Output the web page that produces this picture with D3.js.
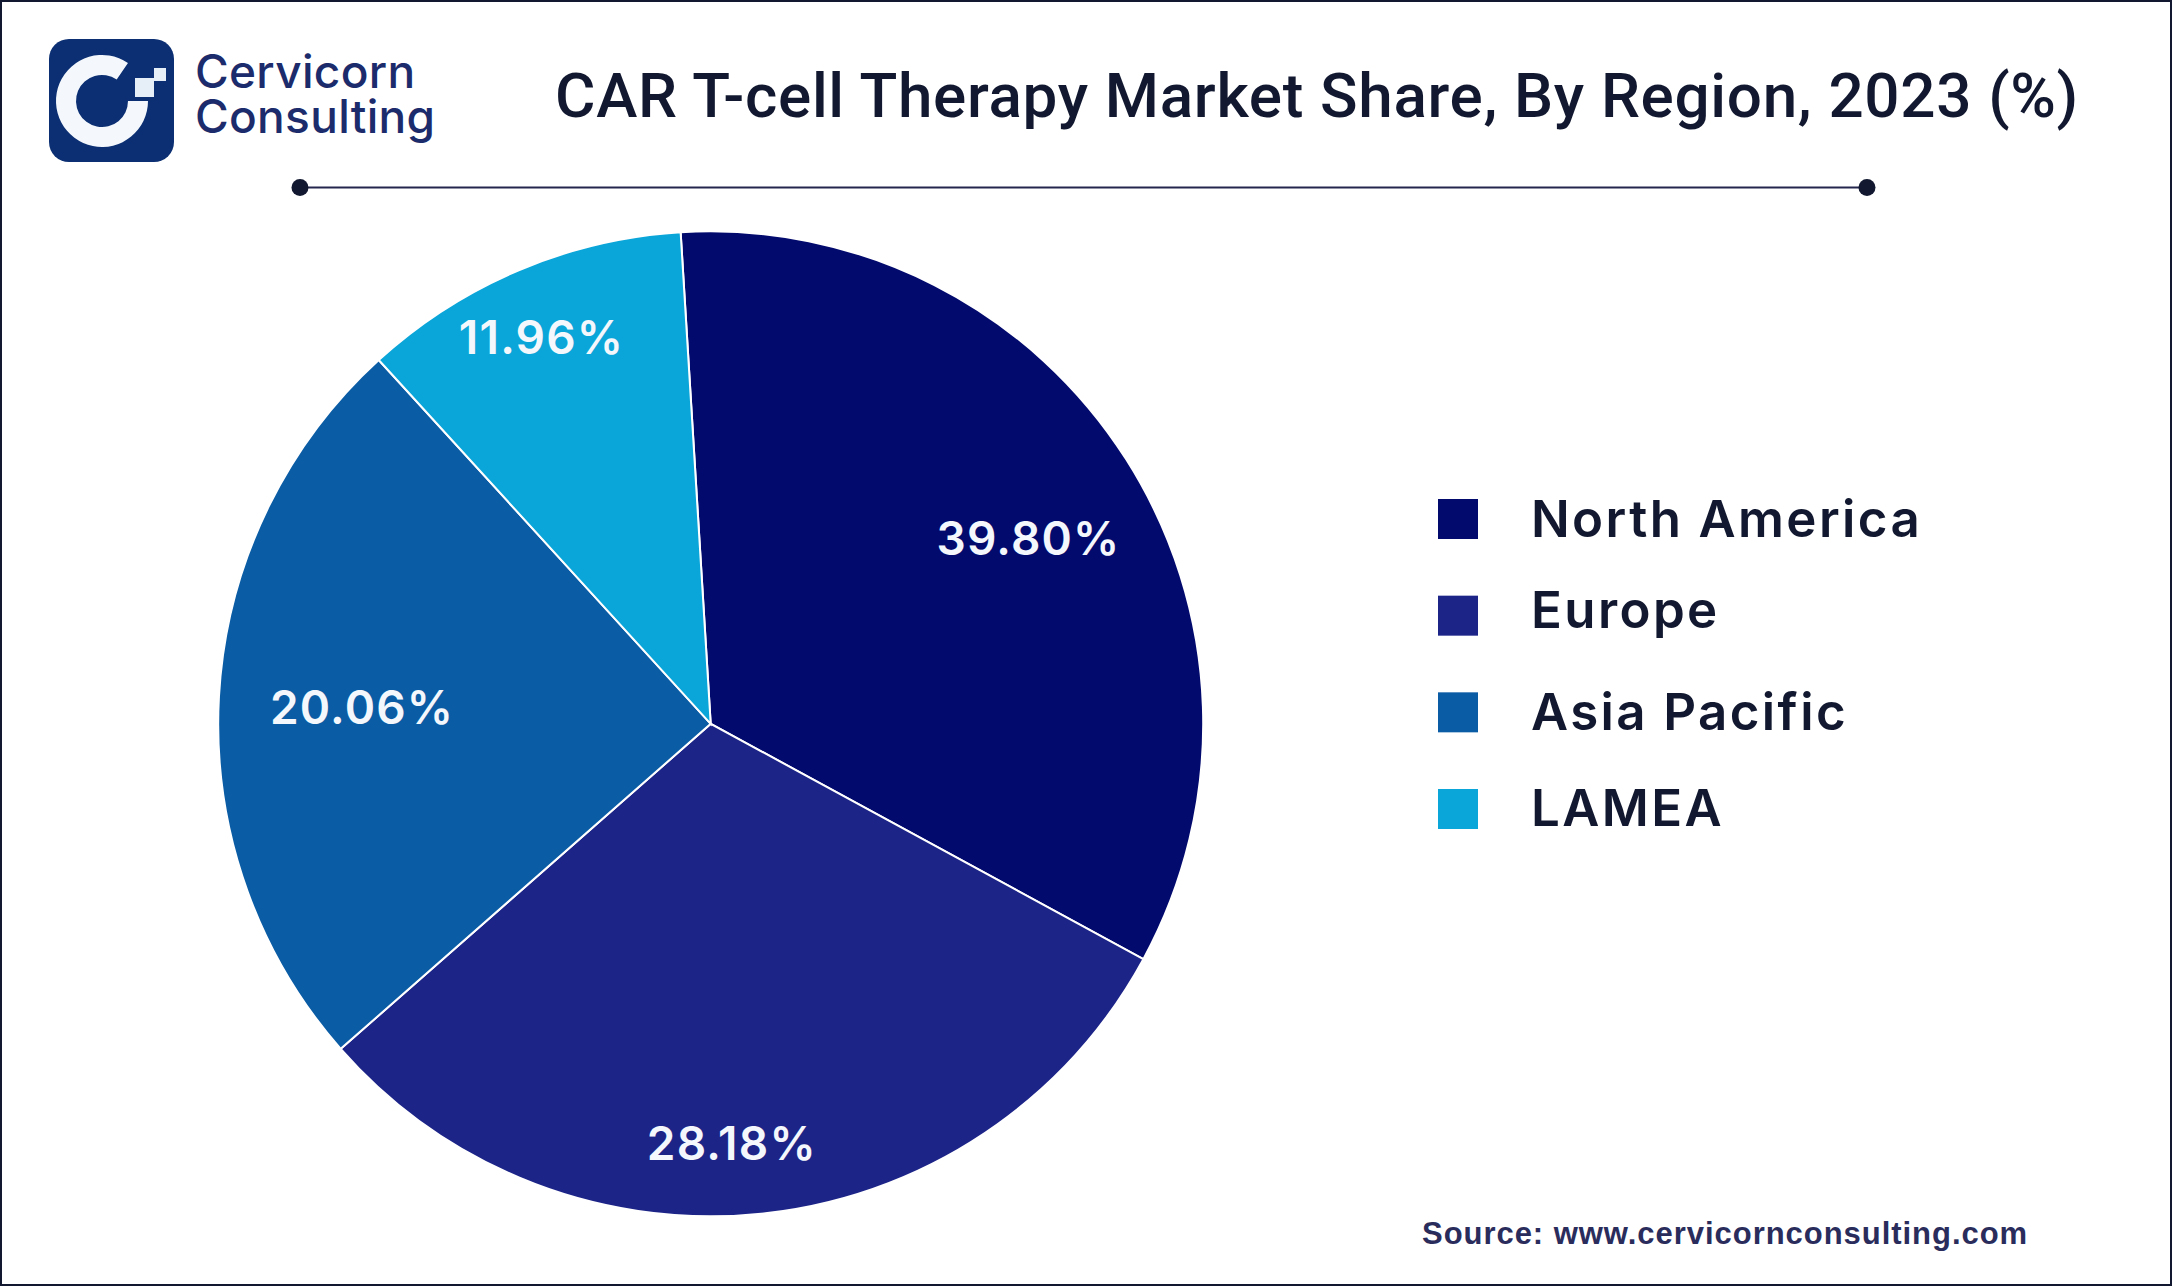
<!DOCTYPE html>
<html lang="en">
<head>
	<meta charset="UTF-8">
	<title>CAR T-cell Therapy Market Share, By Region, 2023 (%)</title>
	<script src="https://cdn.jsdelivr.net/npm/d3@7"></script>
	<style>
		html, body { margin: 0; padding: 0; background: #fff; }
		svg { display: block; }
		text { font-family: "Liberation Sans", sans-serif; }
	</style>
</head>
<body>
	<svg width="2172" height="1286"></svg>
	<script>
		var regions = ["North America", "Europe", "Asia Pacific", "LAMEA"];
		// what the slices print
		var printedShares = [39.80, 28.18, 20.06, 11.96];
		// the slices in the picture are not drawn to the printed numbers, these are the measured sweeps in %
		var drawnShares = [33.9, 30.6, 24.7, 10.8];
		var regionColors = ["#030a6e", "#1c2488", "#0a5ca5", "#0aa5d9"];
		var brandLines = ["Cervicorn", "Consulting"];

		var svg = d3.select("svg");
		var ink = "#11182f";

		svg.append("rect")
			.attr("x", 1).attr("y", 1)
			.attr("width", 2170).attr("height", 1284)
			.attr("fill", "#fff").attr("stroke", ink).attr("stroke-width", 2);

		// logo
		var logo = svg.append("g");
		logo.append("rect")
			.attr("x", 49).attr("y", 39)
			.attr("width", 125).attr("height", 123)
			.attr("rx", 20)
			.attr("fill", "#0b2f72");
		logo.append("path")
			.attr("transform", "translate(102,101)")
			.attr("fill", "#f4f8fc")
			.attr("d", d3.arc()({
				innerRadius: 26,
				outerRadius: 46,
				startAngle: Math.PI / 2,
				endAngle: 2 * Math.PI + 0.6
			}));
		logo.append("rect").attr("x", 135).attr("y", 78).attr("width", 19).attr("height", 19).attr("fill", "#e6eff8");
		logo.append("rect").attr("x", 154).attr("y", 68).attr("width", 12).attr("height", 13).attr("fill", "#e6eff8");
		logo.append("text")
			.attr("fill", "#1b2b6b")
			.style("font-family", "Inter, sans-serif")
			.style("font-weight", 500)
			.style("font-size", "46px")
			.style("letter-spacing", "0.3px")
			.selectAll("tspan")
			.data(brandLines)
			.enter().append("tspan")
			.attr("x", 195)
			.attr("y", function (d, i) { return 88 + i * 45; })
			.text(function (d) { return d; });

		// title and divider
		svg.append("text")
			.attr("x", 555).attr("y", 117)
			.attr("fill", ink)
			.style("font-family", "Roboto, sans-serif")
			.style("font-weight", 500)
			.style("font-size", "62px")
			.style("letter-spacing", "0.67px")
			.text("CAR T-cell Therapy Market Share, By Region, 2023 (%)");

		svg.append("line")
			.attr("x1", 300).attr("x2", 1867)
			.attr("y1", 187.5).attr("y2", 187.5)
			.attr("stroke", "#25264d").attr("stroke-width", 2);
		svg.selectAll("circle.end")
			.data([300, 1867])
			.enter().append("circle")
			.attr("class", "end")
			.attr("cx", function (d) { return d; })
			.attr("cy", 187.5)
			.attr("r", 8.5)
			.attr("fill", ink);

		// pie
		var cx = 710.7, cy = 723.8, radius = 492.5;
		var startAt = -3.5 * Math.PI / 180;
		var pie = d3.pie().sort(null).startAngle(startAt).endAngle(startAt + 2 * Math.PI);
		var arcs = pie(drawnShares);
		var arc = d3.arc().innerRadius(0).outerRadius(radius);

		var chart = svg.append("g").attr("transform", "translate(" + cx + "," + cy + ")");
		chart.selectAll("path")
			.data(arcs)
			.enter().append("path")
			.attr("d", arc)
			.attr("fill", function (d, i) { return regionColors[i]; })
			.attr("stroke", "#fff")
			.attr("stroke-width", 2);

		// labels sit at their own spots: distance from centre and a turn off the slice middle (degrees)
		var labelRadius = [368, 420, 349, 422];
		var labelTurn = [2.2, 3.5, -0.4, -0.7];
		chart.selectAll("text")
			.data(arcs)
			.enter().append("text")
			.attr("transform", function (d, i) {
				var a = (d.startAngle + d.endAngle) / 2 + labelTurn[i] * Math.PI / 180;
				return "translate(" + (labelRadius[i] * Math.sin(a)) + "," + (-labelRadius[i] * Math.cos(a)) + ")";
			})
			.attr("text-anchor", "middle")
			.attr("dy", "0.36em")
			.attr("fill", "#f4f7fb")
			.style("font-family", "Inter, sans-serif")
			.style("font-weight", 600)
			.style("font-size", "46px")
			.style("letter-spacing", "1.2px")
			.text(function (d, i) { return printedShares[i].toFixed(2) + "%"; });

		// legend
		var legendY = d3.scalePoint().domain(regions).range([519, 809]);
		var legendNudge = [0, -6, 0, -1];
		var legend = svg.selectAll("g.legend")
			.data(regions)
			.enter().append("g")
			.attr("class", "legend")
			.attr("transform", function (d) { return "translate(0," + legendY(d) + ")"; });
		legend.append("rect")
			.attr("x", 1438).attr("y", -20)
			.attr("width", 40).attr("height", 40)
			.attr("fill", function (d, i) { return regionColors[i]; });
		legend.append("text")
			.attr("x", 1531)
			.attr("y", function (d, i) { return 18 + legendNudge[i]; })
			.attr("fill", ink)
			.style("font-family", "Inter, sans-serif")
			.style("font-weight", 600)
			.style("font-size", "51px")
			.style("letter-spacing", "2.4px")
			.text(function (d) { return d; });

		svg.append("text")
			.attr("x", 1422).attr("y", 1244)
			.attr("fill", "#2a2d5c")
			.style("font-weight", 700)
			.style("font-size", "31px")
			.style("letter-spacing", "0.96px")
			.text("Source: www.cervicornconsulting.com");
	</script>
</body>
</html>
